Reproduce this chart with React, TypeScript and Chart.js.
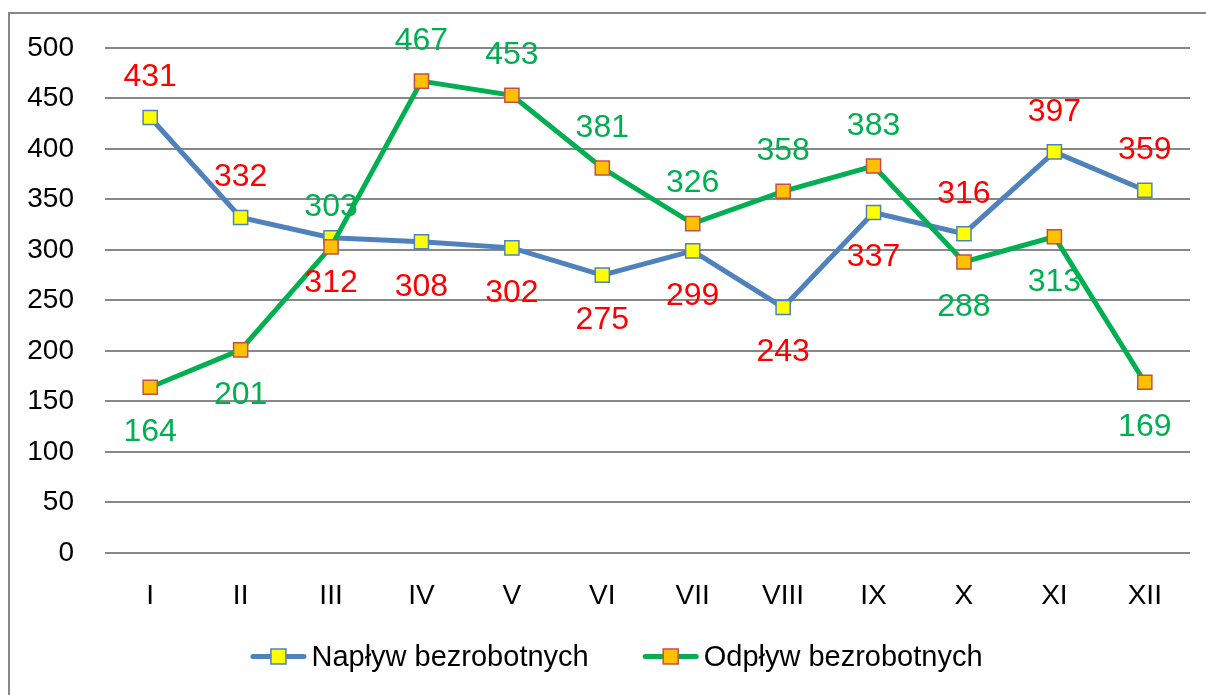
import React, { useEffect, useRef } from "react";
import { Chart, registerables } from "chart.js";

Chart.register(...registerables);

const categories = ["I", "II", "III", "IV", "V", "VI", "VII", "VIII", "IX", "X", "XI", "XII"];
const naplyw = [431, 332, 312, 308, 302, 275, 299, 243, 337, 316, 397, 359];
const odplyw = [164, 201, 303, 467, 453, 381, 326, 358, 383, 288, 313, 169];
const naplywLabelPos = ["above", "above", "below", "below", "below", "below", "below", "below", "below", "above", "above", "above"];
const odplywLabelPos = ["below", "below", "above", "above", "above", "above", "above", "above", "above", "below", "below", "below"];
const seriesNames = ["Napływ bezrobotnych", "Odpływ bezrobotnych"];
const yTicks = [0, 50, 100, 150, 200, 250, 300, 350, 400, 450, 500];

const FONT = "'Liberation Sans', Arial, sans-serif";
const BLUE = "#4F81BD";
const GREEN = "#00B050";

const dataLabelPlugin = {
  id: "dataLabels",
  afterDatasetsDraw(chart: any) {
    const ctx = chart.ctx;
    const cfg = [
      { pos: naplywLabelPos, color: "#FF0000" },
      { pos: odplywLabelPos, color: GREEN },
    ];
    ctx.save();
    ctx.font = `32px ${FONT}`;
    ctx.textAlign = "center";
    ctx.textBaseline = "middle";
    chart.data.datasets.forEach((ds: any, i: number) => {
      const meta = chart.getDatasetMeta(i);
      ctx.fillStyle = cfg[i].color;
      meta.data.forEach((pt: any, j: number) => {
        const off = cfg[i].pos[j] === "above" ? -40 : 45;
        ctx.fillText(String(ds.data[j]), pt.x, pt.y + off);
      });
    });
    ctx.restore();
  },
};

// Legend drawn below the axis: line + square marker, then text
const legendPlugin = {
  id: "customLegend",
  afterDraw(chart: any) {
    const ctx = chart.ctx;
    const xScale = chart.scales.x;
    const centerX = (chart.chartArea.left + chart.chartArea.right) / 2 - 31;
    const cy = xScale.bottom + 41.5;
    const iconW = 56;
    const iconGap = 5;
    const itemGap = 54;
    ctx.save();
    ctx.font = `29px ${FONT}`;
    const widths = chart.data.datasets.map((ds: any) => ctx.measureText(ds.label).width);
    const total = widths.reduce((a: number, w: number) => a + iconW + iconGap + w, 0) + itemGap * (widths.length - 1);
    let x = centerX - total / 2;
    chart.data.datasets.forEach((ds: any, i: number) => {
      ctx.strokeStyle = ds.borderColor;
      ctx.lineWidth = 5;
      ctx.lineCap = "round";
      ctx.beginPath();
      ctx.moveTo(x + 2.5, cy);
      ctx.lineTo(x + iconW - 2.5, cy);
      ctx.stroke();
      ctx.fillStyle = ds.pointBackgroundColor;
      ctx.fillRect(x + iconW / 2 - 7.5, cy - 7.5, 15, 15);
      ctx.strokeStyle = ds.pointBorderColor;
      ctx.lineWidth = 1.5;
      ctx.strokeRect(x + iconW / 2 - 7.5, cy - 7.5, 15, 15);
      x += iconW + iconGap;
      ctx.fillStyle = "#000";
      ctx.textAlign = "left";
      ctx.textBaseline = "middle";
      ctx.fillText(ds.label, x, cy + 1);
      x += widths[i] + itemGap;
    });
    ctx.restore();
  },
};

export default function App() {
  const ref = useRef<HTMLCanvasElement | null>(null);
  useEffect(() => {
    if (!ref.current) return;
    const chart = new Chart(ref.current, {
      type: "line",
      data: {
        labels: categories,
        datasets: [
          {
            label: seriesNames[0],
            data: naplyw,
            borderColor: BLUE,
            borderWidth: 5,
            pointStyle: "rect",
            pointRadius: 10,
            pointBackgroundColor: "#FFFF00",
            pointBorderColor: "#4F81BD",
            pointBorderWidth: 1.5,
            tension: 0,
            order: 1,
          },
          {
            label: seriesNames[1],
            data: odplyw,
            borderColor: GREEN,
            borderWidth: 5,
            pointStyle: "rect",
            pointRadius: 10,
            pointBackgroundColor: "#FFC000",
            pointBorderColor: "#C0504D",
            pointBorderWidth: 1.5,
            tension: 0,
            order: 0,
          },
        ],
      },
      options: {
        animation: false,
        responsive: true,
        maintainAspectRatio: false,
        layout: { padding: { left: 10, right: 16, top: 45, bottom: 80 } },
        scales: {
          x: {
            offset: true,
            grid: { display: false, drawTicks: false, offset: true },
            border: { display: false },
            ticks: { color: "#000", font: { family: FONT, size: 28 }, padding: 26, maxRotation: 0, autoSkip: false },
            afterFit: (s: any) => { s.height = 62; },
          },
          y: {
            min: 0,
            max: 500,
            afterBuildTicks: (s: any) => { s.ticks = yTicks.map((v) => ({ value: v })); },
            grid: { color: "#888888", lineWidth: 2, drawTicks: false },
            border: { display: false },
            ticks: { color: "#000", font: { family: FONT, size: 28 }, padding: 31 },
            afterFit: (s: any) => { s.width = 95; },
          },
        },
        plugins: {
          tooltip: { enabled: false },
          legend: { display: false },
        },
      },
      plugins: [dataLabelPlugin, legendPlugin],
    });
    return () => chart.destroy();
  }, []);

  return (
    <div style={{ position: "fixed", left: 0, top: 0, width: 1206, height: 695, overflow: "hidden", background: "#fff" }}>
      <div style={{ position: "absolute", left: 8, top: 12, width: 1400, height: 900, border: "2px solid #888" }} />
      <div style={{ position: "absolute", left: 0, top: 0, width: 1206, height: 695 }}>
        <canvas ref={ref} />
      </div>
    </div>
  );
}
